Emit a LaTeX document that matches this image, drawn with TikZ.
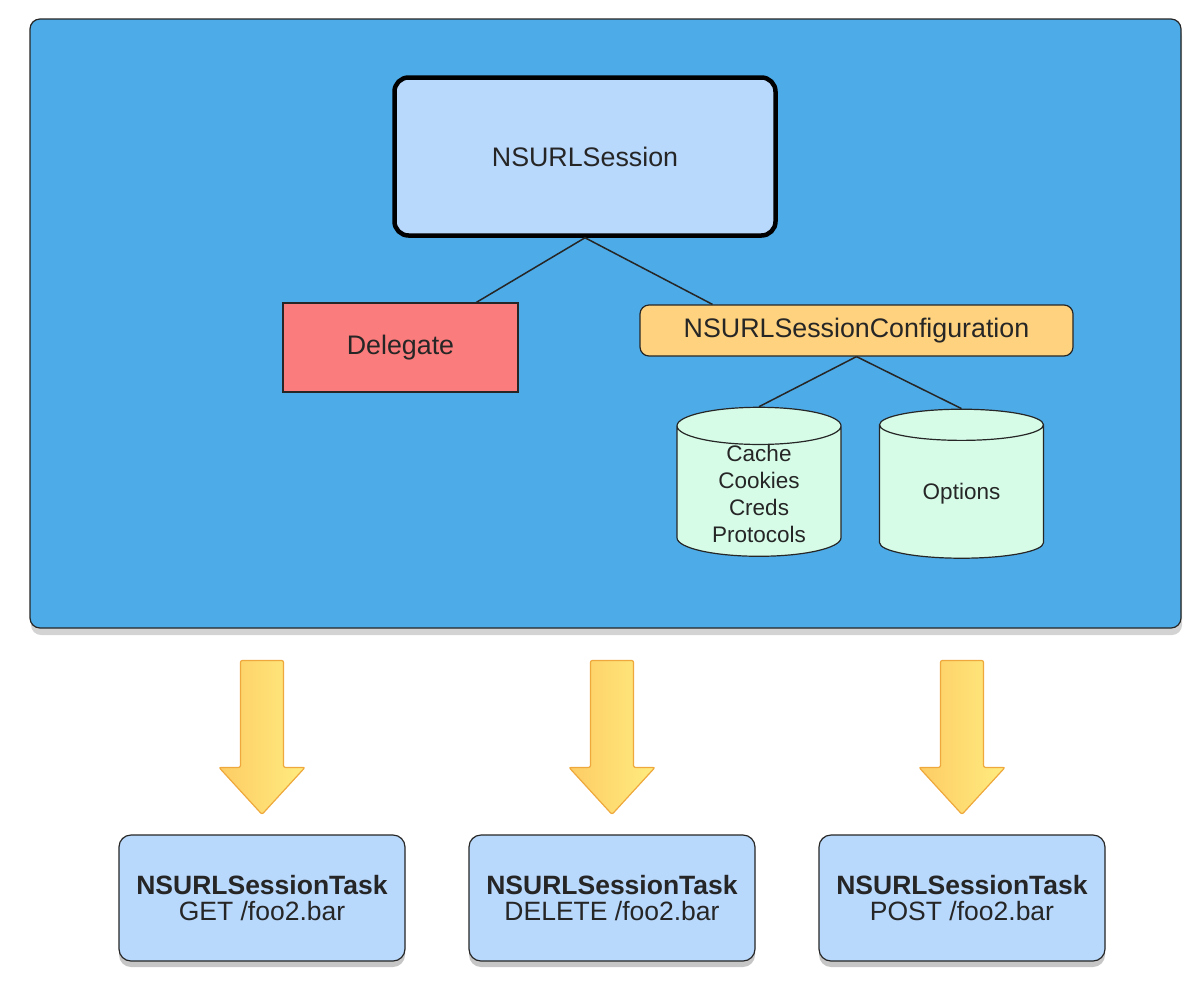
\documentclass[tikz,border=0pt]{standalone}
\usepackage{fontspec}
\setmainfont{Liberation Sans}
\usetikzlibrary{shapes.geometric,shadows}

\definecolor{frameblue}{RGB}{77,171,231}
\definecolor{sessionblue}{RGB}{184,216,252}
\definecolor{delegatered}{RGB}{251,124,124}
\definecolor{configorange}{RGB}{254,210,126}
\definecolor{dbgreen}{RGB}{214,252,232}
\definecolor{arrowleft}{RGB}{253,204,100}
\definecolor{arrowright}{RGB}{255,236,128}
\definecolor{arrowedge}{RGB}{238,168,60}

\begin{document}
\begin{tikzpicture}[
        x=1pt, y=-1pt,
        every node/.style={align=center, text=black!85},
        bigtext/.style={font=\fontsize{26.8}{30}\selectfont},
        frame/.style={draw=black!85, line width=1.2pt, fill=frameblue, rounded corners=10pt,
            drop shadow={opacity=0.35, shadow xshift=1pt, shadow yshift=-7pt}},
        sessionbox/.style={draw=black, line width=4.5pt, fill=sessionblue, rounded corners=14pt,
            minimum width=381pt, minimum height=158pt, bigtext},
        delegatebox/.style={draw=black!85, line width=1.2pt, fill=delegatered,
            minimum width=235pt, minimum height=89pt, bigtext},
        configbox/.style={draw=black!85, line width=1.2pt, fill=configorange, rounded corners=9pt,
            minimum width=433pt, minimum height=51pt, bigtext},
        db/.style={cylinder, shape border rotate=90, aspect=0.37, draw=black!85, line width=1.2pt,
            fill=dbgreen, minimum width=164pt, minimum height=149pt, inner ysep=0pt,
            font=\fontsize{22.5}{27}\selectfont},
        taskbox/.style={draw=black!85, line width=1.2pt, fill=sessionblue, rounded corners=12pt,
            minimum width=286pt, minimum height=126pt, font=\fontsize{26.5}{26}\selectfont,
            drop shadow={opacity=0.45, shadow xshift=0pt, shadow yshift=-6pt}},
        link/.style={draw=black!85, line width=1.5pt},
        blockarrow/.style={draw=arrowedge, line width=1.2pt, left color=arrowleft, right color=arrowright,
            rounded corners=2pt},
    ]
    \useasboundingbox (0,0) rectangle (1188,994);

    % session container
    \node[frame, minimum width=1151pt, minimum height=609pt] (frame) at (605.5,323.5) {};

    \node[sessionbox] (session) at (585,156.5) {NSURLSession};
    \node[delegatebox] (delegate) at (400.5,347.5) {Delegate};
    \node[configbox] (config) at (856.5,330.5) {NSURLSessionConfiguration};
    \node[db] (cacheDb) at (759,494) {Cache\\Cookies\\Creds\\Protocols};
    \node[db] (optionsDb) at (961.5,494) {Options};

    \draw[link] (session.south) -- (delegate);
    \draw[link] (session.south) -- ([xshift=-144pt]config.north);
    \draw[link] (config.south) -- (cacheDb.north);
    \draw[link] (config.south) -- (optionsDb.north);

    % tasks
    \foreach \x/\name/\method in {262/getTask/GET, 612/deleteTask/DELETE, 962/postTask/POST}{
        \node[taskbox] (\name) at (\x,898) {\textbf{NSURLSessionTask}\\\method\ /foo2.bar};
        \draw[blockarrow] ([yshift=20pt]\name.north) -- ++(-43,-47) -- ++(21.5,0) -- ++(0,-107)
            -- ++(43,0) -- ++(0,107) -- ++(21.5,0) -- cycle;
    }
\end{tikzpicture}
\end{document}
